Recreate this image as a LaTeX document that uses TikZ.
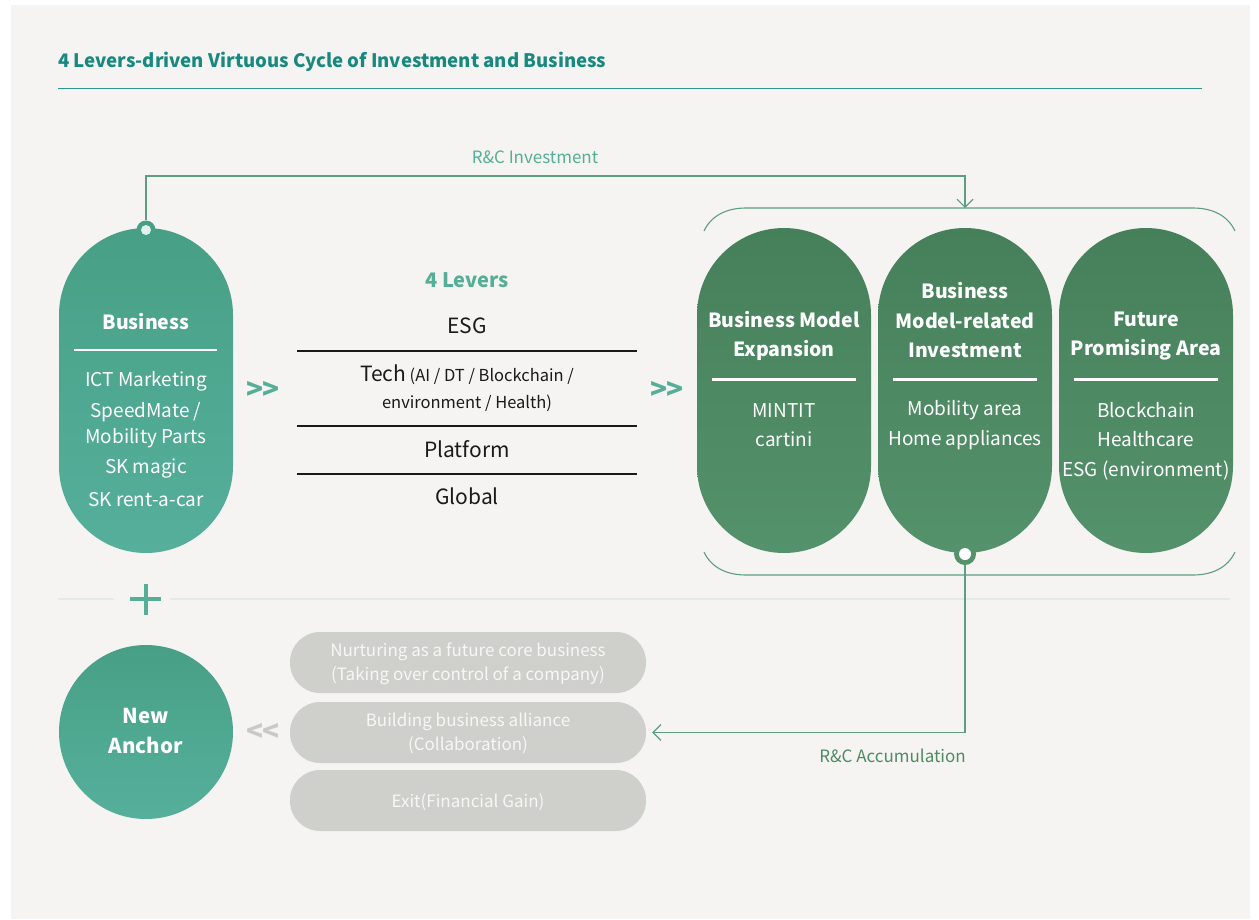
\documentclass[tikz,border=0pt]{standalone}
\usepackage{fontspec}
\setmainfont{Noto Sans CJK KR}
\usetikzlibrary{arrows.meta,calc}
\definecolor{panelc}{HTML}{F5F4F2}
\definecolor{titlec}{HTML}{17897E}
\definecolor{leverc}{HTML}{55AE96}
\definecolor{tealtop}{HTML}{47A085}
\definecolor{tealbot}{HTML}{56AF9B}
\definecolor{gtop}{HTML}{46805A}
\definecolor{gbot}{HTML}{54926C}
\definecolor{connc}{HTML}{5E9E80}
\definecolor{accumc}{HTML}{4E8A63}
\definecolor{grayc}{HTML}{CFD0CC}
\definecolor{sepc}{HTML}{E2EBE6}
\definecolor{inkc}{HTML}{1A1A1A}
\definecolor{ltxt}{HTML}{F7F7F5}
\definecolor{chevgray}{HTML}{C9CAC6}
\tikzset{
  vpill/.style={rounded corners=87pt, minimum width=174pt, minimum height=325pt, inner sep=0pt},
  bizpill/.style={vpill, top color=tealtop, bottom color=tealbot},
  greenpill/.style={vpill, top color=gtop, bottom color=gbot},
  graypill/.style={fill=grayc, rounded corners=30pt, minimum width=356pt, minimum height=61pt, inner sep=0pt},
  pilltitle/.style={text=white, font=\bfseries\fontsize{19.5}{29.5}\selectfont, align=center, inner sep=0pt},
  pillitem/.style={text=white, font=\fontsize{19}{29.5}\selectfont, align=center, inner sep=0pt},
  lever/.style={text=inkc, font=\fontsize{21}{25}\selectfont, inner sep=0pt},
  grtxt/.style={text=ltxt, font=\fontsize{17}{24}\selectfont, align=center, inner sep=0pt},
  connline/.style={draw=connc, line width=1.1pt},
  barb/.style={-{Straight Barb[length=8pt,width=16pt,line width=1.1pt]}},
  chev/.style={font=\bfseries\fontsize{28}{28}\selectfont, inner sep=0pt},
  whiterule/.style={draw=white, line width=2.6pt},
  leverrule/.style={draw=inkc, line width=1.1pt},
}
\begin{document}
\begin{tikzpicture}[x=1pt,y=-1pt]
\useasboundingbox (0,0) rectangle (1259,919);
\fill[white] (0,0) rectangle (1259,919);
\fill[panelc] (11,5) rectangle (1250,919);

% title
\node[anchor=west, inner sep=0pt, text=titlec, font=\bfseries\fontsize{18.6}{22}\selectfont] (title) at (58,62) {4 Levers-driven Virtuous Cycle of Investment and Business};
\draw[draw=titlec!90, line width=1.4pt] (58,88.5) -- (1202,88.5);

% business pill
\node[bizpill] (biz) at (146,390.5) {};
\node[pilltitle] (biztitle) at (146,322) {Business};
\draw[whiterule] (74,350) -- (217,350);
\node[pillitem] (bi1) at (146,381) {ICT Marketing};
\node[pillitem, font=\fontsize{19}{26}\selectfont] (bi2) at (146,425) {SpeedMate /\\Mobility Parts};
\node[pillitem] (bi3) at (146,469) {SK magic};
\node[pillitem] (bi4) at (146,500) {SK rent-a-car};

% dot on business pill
\node[circle, fill=tealtop, minimum size=19pt, inner sep=0pt] (bizdot) at (146,230) {};
\node[circle, fill=white!85!tealtop, minimum size=10pt, inner sep=0pt] (bizdotin) at (146,230) {};

% levers
\node[text=leverc, font=\bfseries\fontsize{20}{24}\selectfont, inner sep=0pt] (levers) at (467,280) {4 Levers};
\node[lever] (esg) at (467,326) {ESG};
\draw[leverrule] (297,351) -- (637,351);
\node[lever] (tech) at (467,375) {Tech\,{\fontsize{16.5}{20}\selectfont(AI / DT / Blockchain /}};
\node[lever, font=\fontsize{16.5}{20}\selectfont] (tech2) at (467,403) {environment / Health)};
\draw[leverrule] (297,426) -- (637,426);
\node[lever] (platform) at (467,449) {Platform};
\draw[leverrule] (297,474) -- (637,474);
\node[lever] (global) at (467,496) {Global};

\node[chev, text=leverc] (chev1) at (263,390) {>\kern-2pt>};
\node[chev, text=leverc] (chev2) at (667,390) {>\kern-2pt>};

% right bracket
\draw[connline] (704,231) .. controls (711,216) and (726,208) .. (746,208) -- (1193,208) .. controls (1213,208) and (1228,216) .. (1235,231);
\draw[connline] (704,552) .. controls (711,567) and (726,575) .. (746,575) -- (1193,575) .. controls (1213,575) and (1228,567) .. (1235,552);

% green pills
\node[greenpill] (bme) at (784,390.5) {};
\node[greenpill] (bmi) at (965,390.5) {};
\node[greenpill] (fpa) at (1146,390.5) {};

\node[pilltitle] (bmet) at (784,336) {Business Model\\Expansion};
\draw[whiterule] (712,379.5) -- (856,379.5);
\node[pillitem] (bmeit) at (784,425) {MINTIT\\cartini};

\node[pilltitle] (bmit) at (965,320.5) {Business\\Model-related\\Investment};
\draw[whiterule] (893,379.5) -- (1037,379.5);
\node[pillitem] (bmiit) at (965,425) {Mobility area\\Home appliances};

\node[pilltitle] (fpat) at (1146,336) {Future\\Promising Area};
\draw[whiterule] (1074,379.5) -- (1218,379.5);
\node[pillitem] (fpait) at (1146,441) {Blockchain\\Healthcare\\ESG (environment)};

\node[circle, fill=gbot, minimum size=22pt, inner sep=0pt] (bmidot) at (965,554) {};
\node[circle, fill=white, minimum size=12pt, inner sep=0pt] (bmidotin) at (965,554) {};

% R&C investment connector
\coordinate (invcorner) at (965,176);
\coordinate (brktop) at (965,208);
\draw[connline, barb] (bizdot.north) |- (invcorner) -- (brktop);
\node[text=leverc, font=\fontsize{17}{20}\selectfont, inner sep=0pt] (invlabel) at (535,157) {R\&C Investment};

% separator and plus
\draw[draw=sepc, line width=1.8pt] (58,599) -- (114,599);
\draw[draw=sepc, line width=1.8pt] (170,599) -- (1230,599);
\draw[draw=leverc, line width=3.8pt] (130,599) -- (161,599);
\draw[draw=leverc, line width=3.8pt] (146,584) -- (146,615);

% lower part
\node[circle, minimum size=174pt, inner sep=0pt, top color=tealtop, bottom color=tealbot] (anchor) at (146,732) {};
\node[pilltitle, font=\bfseries\fontsize{20.5}{30}\selectfont] (anchort) at (146,731) {New\\Anchor};
\node[chev, text=chevgray] (chev3) at (263,732) {<\kern-2pt<};

\node[graypill] (gp1) at (468,662.5) {};
\node[graypill] (gp2) at (468,732.5) {};
\node[graypill] (gp3) at (468,800.5) {};
\node[grtxt] (gp1t) at (468,664) {Nurturing as a future core business\\(Taking over control of a company)};
\node[grtxt] (gp2t) at (468,733) {Building business alliance\\(Collaboration)};
\node[grtxt] (gp3t) at (468,802) {Exit(Financial Gain)};

% R&C accumulation connector
\draw[connline, barb, shorten >=6pt] (bmidot.south) |- (gp2.east);
\node[anchor=east, text=accumc, font=\fontsize{17}{20}\selectfont, inner sep=0pt] (acclabel) at (966,756) {R\&C Accumulation};
\end{tikzpicture}
\end{document}
